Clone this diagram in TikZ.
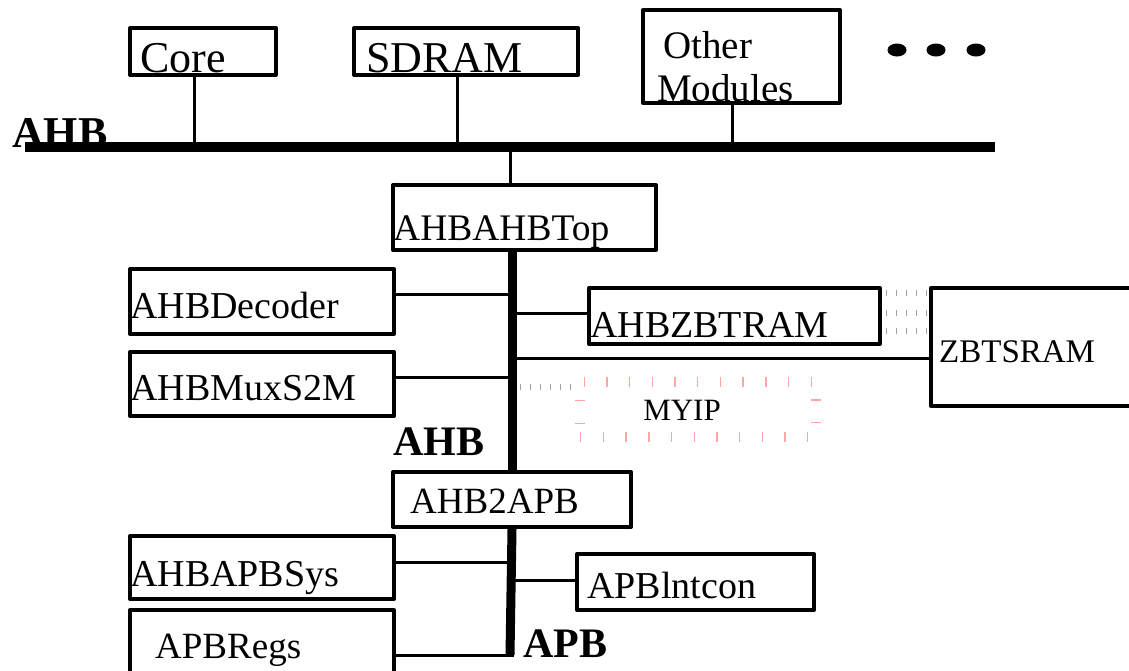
\documentclass[tikz,border=0pt]{standalone}
\usepackage{fontspec}
\setmainfont{Liberation Serif}
\definecolor{tickgray}{RGB}{160,160,160}
\definecolor{tickpink}{RGB}{255,165,165}
\begin{document}
\begin{tikzpicture}[x=1pt,y=-1pt,
  blk/.style={draw, line width=4pt, line join=round, inner sep=0pt, anchor=north west},
  conn/.style={line width=3pt},
  topbar/.style={line width=10pt},
  bus/.style={line width=9pt},
  lbl/.style={anchor=base west, inner sep=0pt, font=\fontsize{37}{37}\selectfont},
  buslbl/.style={anchor=base west, inner sep=0pt, font=\bfseries\fontsize{42}{42}\selectfont},
  grayticks/.style={draw=tickgray, line width=5.5pt, dash pattern=on 1.2pt off 8.8pt},
  pinkbox/.style={draw=tickpink, line width=10pt, dash pattern=on 1.4pt off 21.3pt,
                  inner sep=0pt, anchor=north west},
]
\useasboundingbox (0,0) rectangle (1129,670);
\clip (0,0) rectangle (1129,670);

% ---- labels ----
\node[buslbl, font=\bfseries\fontsize{44}{44}\selectfont] (ahbtopT) at (12,147) {AHB};
\node[lbl, font=\fontsize{44}{44}\selectfont] (coreT) at (140,72) {Core};
\node[lbl, font=\fontsize{44}{44}\selectfont] (sdramT) at (366,72) {SDRAM};
\node[lbl, font=\fontsize{39}{39}\selectfont] (otherT) at (663,58) {Other};
\node[lbl, font=\fontsize{39}{39}\selectfont] (modT) at (657,101) {Modules};
\node[lbl, font=\fontsize{37.5}{37.5}\selectfont] (ahbahbT) at (393,240) {AHBAHBTop};
\node[lbl, font=\fontsize{38}{38}\selectfont] (decT) at (130,318) {AHBDecoder};
\node[lbl, font=\fontsize{38}{38}\selectfont] (muxT) at (130,400) {AHBMuxS2M};
\node[lbl, font=\fontsize{38}{38}\selectfont] (zbtramT) at (590,337) {AHBZBTRAM};
\node[lbl, font=\fontsize{33}{33}\selectfont] (zbtsramT) at (939,362) {ZBTSRAM};
\node[lbl, anchor=base, font=\fontsize{31}{31}\selectfont] (myipT) at (682,420) {MYIP};
\node[buslbl] (ahbmidT) at (393,455) {AHB};
\node[lbl] (a2aT) at (410,513) {AHB2APB};
\node[lbl, font=\fontsize{38}{38}\selectfont] (sysT) at (130,586) {AHBAPBSys};
\node[lbl] (regsT) at (155,658) {APBRegs};
\node[lbl, font=\fontsize{38}{38}\selectfont] (intT) at (587,598) {APBlntcon};
\node[buslbl] (apbT) at (523,657) {APB};

% ---- module boxes ----
\node[blk, minimum width=146pt, minimum height=47pt] (core) at (128,26) {};
\node[blk, minimum width=224pt, minimum height=47pt] (sdram) at (352,26) {};
\node[blk, minimum width=197pt, minimum height=93pt] (other) at (641,8) {};
\node[blk, minimum width=263pt, minimum height=65pt] (ahbtop) at (391,183) {};
\node[blk, minimum width=264pt, minimum height=65pt] (decoder) at (128,267) {};
\node[blk, minimum width=264pt, minimum height=64pt] (mux) at (128,350) {};
\node[blk, minimum width=291pt, minimum height=56pt] (zbtram) at (587,286) {};
\node[blk, minimum width=220pt, minimum height=118pt] (zbtsram) at (929,286) {};
\node[pinkbox, minimum width=236pt, minimum height=55pt] (myip) at (575,377) {};
\node[blk, minimum width=238pt, minimum height=55pt] (ahb2apb) at (391,470) {};
\node[blk, minimum width=264pt, minimum height=63pt] (apbsys) at (128,534) {};
\node[blk, minimum width=264pt, minimum height=72pt] (apbregs) at (128,608) {};
\node[blk, minimum width=237pt, minimum height=56pt] (intcon) at (575,552) {};

% ---- bus taps ----
\coordinate (barL) at (25,147);
\coordinate (barR) at (995,147);
\coordinate (t1) at (194,147);
\coordinate (t2) at (457,147);
\coordinate (t3) at (732,147);
\coordinate (t4) at (510,147);
\coordinate (b1) at (510,294);
\coordinate (b2) at (510,377);
\coordinate (b3) at (510,313);
\coordinate (b4) at (510,358);
\coordinate (b5) at (510,562);
\coordinate (b6) at (510,580);
\coordinate (apbend) at (510,655);
\coordinate (g0) at (520,387);
\coordinate (z1) at (886,293);
\coordinate (z2) at (886,313);
\coordinate (z3) at (886,331);

% ---- connectors ----
\draw[conn] (core.south -| t1) -- (t1);
\draw[conn] (sdram.south -| t2) -- (t2);
\draw[conn] (other.south -| t3) -- (t3);
\draw[conn] (t4) -- (ahbtop.north -| t4);
\draw[conn] (decoder.east |- b1) -- (b1);
\draw[conn] (mux.east |- b2) -- (b2);
\draw[conn] (b3) -- (zbtram.west |- b3);
\draw[conn] (b4) -- (zbtsram.west |- b4);
\draw[conn] (apbsys.east |- b5) -- (b5);
\draw[conn] (b6) -- (intcon.west |- b6);
\draw[conn] (apbregs.east |- apbend) -- ([xshift=4pt]apbend);

% faint links
\draw[grayticks] (g0) -- (myip.west |- g0);
\draw[grayticks] (z1) -- (zbtsram.west |- z1);
\draw[grayticks] (z2) -- (zbtsram.west |- z2);
\draw[grayticks] (z3) -- (zbtsram.west |- z3);

% ---- buses ----
\draw[topbar] (barL) -- (barR);
\draw[bus] (ahbtop.south -| ahb2apb.north) -- (ahb2apb.north);
\draw[bus] (ahb2apb.south) -- (apbend);

% ---- ellipsis ----
\fill (897,50) ellipse [x radius=9.5pt, y radius=6.5pt];
\fill (936,50) ellipse [x radius=9.5pt, y radius=6.5pt];
\fill (976,50) ellipse [x radius=9.5pt, y radius=6.5pt];
\end{tikzpicture}
\end{document}
